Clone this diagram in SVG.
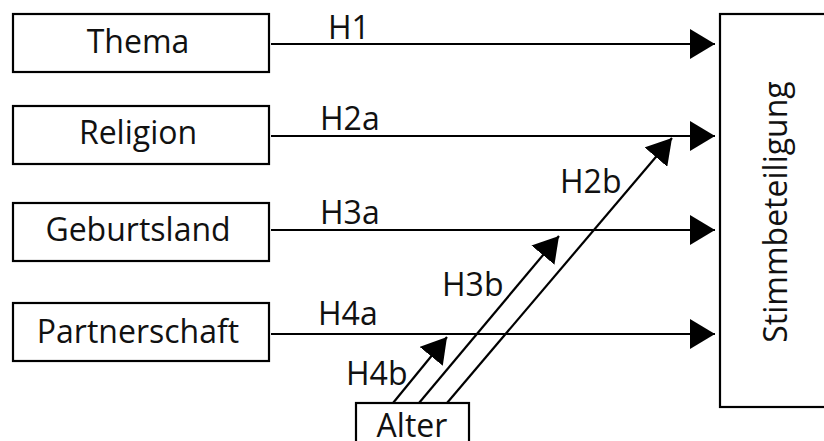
<svg xmlns="http://www.w3.org/2000/svg" width="824" height="441" viewBox="0 0 824 441">
<style>
.box{fill:#fff;stroke:#000;stroke-width:2.2}
.t{font-family:"Open Sans","Liberation Sans",sans-serif;font-size:32px;fill:#111}
.c{text-anchor:middle}
.ln{stroke:#000;stroke-width:2.2;fill:none;marker-end:url(#ah)}
</style>
<defs>
<marker id="ah" markerUnits="userSpaceOnUse" markerWidth="26" markerHeight="30" refX="25" refY="15" orient="auto" viewBox="0 0 26 30">
<path d="M0,0 L25,15 L0,30 Z" fill="#000"/>
</marker>
</defs>
<rect width="824" height="441" fill="#fff"/>
<g id="connectors">
<line class="ln" x1="271" y1="44" x2="715" y2="44"/>
<line class="ln" x1="271" y1="136" x2="715" y2="136"/>
<line class="ln" x1="271" y1="230" x2="715" y2="230"/>
<line class="ln" x1="271" y1="334" x2="715" y2="334"/>
<line class="ln" x1="393" y1="403" x2="447" y2="337"/>
<line class="ln" x1="419" y1="403" x2="559" y2="236"/>
<line class="ln" x1="447" y1="403" x2="672" y2="138"/>
<text class="t" x="328" y="39">H1</text>
<text class="t" x="320" y="130">H2a</text>
<text class="t" x="320" y="224">H3a</text>
<text class="t" x="318" y="325">H4a</text>
<text class="t" x="560" y="193">H2b</text>
<text class="t" x="442" y="296">H3b</text>
<text class="t" x="346" y="385">H4b</text>
</g>
<g id="thema">
<rect class="box" x="13" y="14" width="256" height="58"/>
<text class="t c" x="138" y="53">Thema</text>
</g>
<g id="religion">
<rect class="box" x="13" y="106" width="256" height="58"/>
<text class="t c" x="138" y="144">Religion</text>
</g>
<g id="geburtsland">
<rect class="box" x="13" y="203" width="256" height="58"/>
<text class="t c" x="138" y="241">Geburtsland</text>
</g>
<g id="partnerschaft">
<rect class="box" x="13" y="303" width="256" height="58"/>
<text class="t c" x="138" y="343">Partnerschaft</text>
</g>
<g id="alter">
<rect class="box" x="356" y="403" width="113" height="50"/>
<text class="t c" x="412" y="437">Alter</text>
</g>
<g id="stimmbeteiligung">
<rect class="box" x="720" y="14" width="110" height="393"/>
<text class="t c" transform="translate(787,212) rotate(-90)">Stimmbeteiligung</text>
</g>
</svg>
